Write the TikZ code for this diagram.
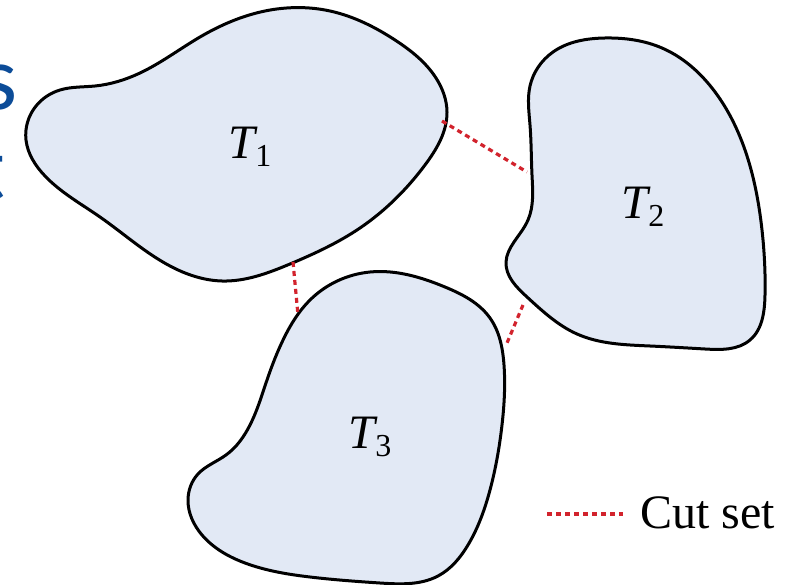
\documentclass[tikz,border=0pt]{standalone}
\usepackage{fontspec}
\setmainfont{Liberation Serif}
\newfontfamily\bluesans{Carlito}
\usetikzlibrary{hobby}
\definecolor{blobfill}{RGB}{226,233,245}
\definecolor{cutred}{RGB}{210,35,45}
\definecolor{slideblue}{RGB}{12,76,152}
\newcommand{\tlabel}[1]{\fontsize{48}{48}\selectfont\textit{T}\kern-3pt\raisebox{-8pt}{\fontsize{32}{32}\selectfont #1}}
\begin{document}
\begin{tikzpicture}[x=1pt,y=-1pt,
  blob/.style={draw=black, line width=3pt, fill=blobfill, line join=round, use Hobby shortcut, closed=true},
  cutline/.style={draw=cutred, line width=3.2pt, dash pattern=on 5pt off 4pt},
  tlab/.style={inner sep=0pt}]
\useasboundingbox (0,0) rectangle (805,585);
\begin{scope}
\clip (0,0) rectangle (805,585);
\node[anchor=base east, inner sep=0pt, text=slideblue, font=\bluesans\fontsize{92}{92}\selectfont] (s) at (18,110) {s};
\node[anchor=base east, inner sep=0pt, text=slideblue, font=\bluesans\fontsize{92}{92}\selectfont] (t) at (6,200) {t};
\end{scope}
% T1
\draw[blob] (26,140) .. (36,106) .. (60,90) .. (95,86) .. (140,73) .. (200,37) .. (265,11) .. (330,11) .. (395,40) .. (436,78) .. (447,112) .. (425,165) .. (360,228) .. (290,264) .. (222,281) .. (170,266) .. (100,217) .. (45,176);
% T2
\draw[blob] (530,86) .. (553,52) .. (605,38) .. (662,48) .. (712,88) .. (745,150) .. (762,230) .. (765,295) .. (750,340) .. (705,349) .. (650,346) .. (577,334) .. (527,297) .. (506,262) .. (514,242) .. (528,220) .. (532,175) .. (530,125);
% T3
\draw[blob] (370,272) .. (445,287) .. (490,318) .. (504,365) .. (502,425) .. (490,490) .. (468,545) .. (438,576) .. (380,583) .. (310,577) .. (245,563) .. (202,535) .. (188,500) .. (198,474) .. (226,455) .. (250,425) .. (267,380) .. (284,338) .. (310,300);
\node[tlab] (T1) at (250,147) {\tlabel{1}};
\node[tlab] (T2) at (643,207) {\tlabel{2}};
\node[tlab] (T3) at (370,437) {\tlabel{3}};
\coordinate (c12a) at (442,121);
\coordinate (c12b) at (527,172);
\coordinate (c13a) at (293,262);
\coordinate (c13b) at (298,315);
\coordinate (c23a) at (523,305);
\coordinate (c23b) at (507,343);
\draw[cutline] (c12a) -- (c12b);
\draw[cutline] (c13a) -- (c13b);
\draw[cutline] (c23a) -- (c23b);
\coordinate (lega) at (547,514);
\coordinate (legb) at (623,514);
\draw[cutline] (lega) -- (legb);
\node[anchor=base west, inner sep=0pt, font=\fontsize{48}{48}\selectfont] (leg) at (640,528) {Cut set};
\end{tikzpicture}
\end{document}
